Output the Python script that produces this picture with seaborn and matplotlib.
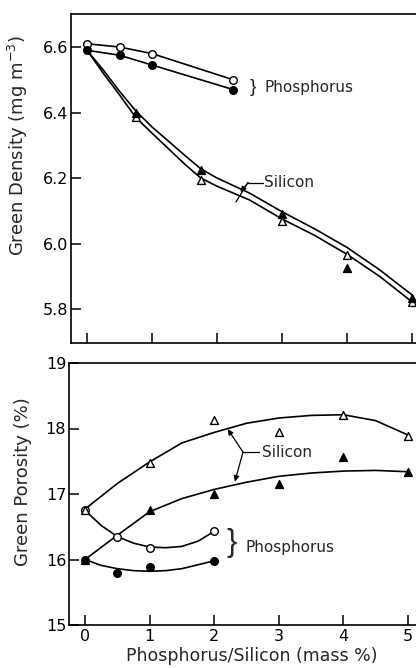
import matplotlib
matplotlib.use("Agg")
import matplotlib.pyplot as plt
import seaborn as sns
import numpy as np

sns.set_theme(style="white")
plt.rcParams['font.family'] = ['DejaVu Sans']

# ---------------- data: top panel (green density) ----------------
p_open_x = [0.0, 0.5, 1.0, 2.25]
p_open_y = [6.61, 6.60, 6.58, 6.50]
p_fill_x = [0.0, 0.5, 1.0, 2.25]
p_fill_y = [6.59, 6.575, 6.545, 6.47]

si_open_x = [0.75, 1.75, 3.0, 4.0, 5.0]
si_open_y = [6.385, 6.195, 6.07, 5.965, 5.82]
si_fill_x = [0.75, 1.75, 3.0, 4.0, 5.0]
si_fill_y = [6.40, 6.225, 6.09, 5.925, 5.835]

# hand-drawn fit curves
si_up_cx = [0.0, 0.25, 0.5, 0.75, 1.0, 1.5, 1.75, 2.0, 2.5, 3.0, 3.5, 4.0, 4.5, 5.0]
si_up_cy = [6.59, 6.53, 6.465, 6.405, 6.356, 6.27, 6.228, 6.20, 6.154, 6.097, 6.045, 5.988, 5.92, 5.843]
si_lo_cx = [0.0, 0.25, 0.5, 0.75, 1.0, 1.5, 1.75, 2.0, 2.5, 3.0, 3.5, 4.0, 4.5, 5.0]
si_lo_cy = [6.59, 6.52, 6.454, 6.385, 6.337, 6.243, 6.20, 6.175, 6.133, 6.075, 6.025, 5.967, 5.90, 5.822]

# ---------------- data: bottom panel (green porosity) ----------------
bp_open_x = [0.0, 0.5, 1.0, 2.0]
bp_open_y = [16.75, 16.35, 16.18, 16.43]
bp_fill_x = [0.0, 0.5, 1.0, 2.0]
bp_fill_y = [16.0, 15.79, 15.89, 15.98]

bs_open_x = [0.0, 1.0, 2.0, 3.0, 4.0, 5.0]
bs_open_y = [16.75, 17.48, 18.13, 17.94, 18.21, 17.89]
bs_fill_x = [0.0, 1.0, 2.0, 3.0, 4.0, 5.0]
bs_fill_y = [16.0, 16.76, 17.0, 17.15, 17.57, 17.33]

bp_open_cx = [0.0, 0.25, 0.5, 0.75, 1.0, 1.25, 1.5, 1.75, 2.0]
bp_open_cy = [16.75, 16.52, 16.35, 16.25, 16.19, 16.18, 16.20, 16.28, 16.43]
bp_fill_cx = [0.0, 0.25, 0.5, 0.75, 1.0, 1.25, 1.5, 1.75, 2.0]
bp_fill_cy = [16.0, 15.91, 15.86, 15.83, 15.82, 15.83, 15.86, 15.92, 15.98]

bs_up_cx = [0.0, 0.5, 1.0, 1.5, 2.0, 2.5, 3.0, 3.5, 4.0, 4.5, 5.0]
bs_up_cy = [16.77, 17.16, 17.49, 17.78, 17.94, 18.08, 18.16, 18.2, 18.21, 18.12, 17.90]
bs_lo_cx = [0.0, 0.5, 1.0, 1.5, 2.0, 2.5, 3.0, 3.5, 4.0, 4.5, 5.0]
bs_lo_cy = [16.0, 16.37, 16.73, 16.93, 17.07, 17.18, 17.27, 17.32, 17.35, 17.36, 17.34]

xticks = [0, 1, 2, 3, 4, 5]
top_yticks = [5.8, 6.0, 6.2, 6.4, 6.6]
bot_yticks = [15, 16, 17, 18, 19]

# ---------------- figure ----------------
W, H = 416, 668
fig = plt.figure(figsize=(W / 100, H / 100), dpi=100)
fig.patch.set_facecolor('white')

def px_axes(left, top, right, bottom):
    return fig.add_axes([left / W, 1 - bottom / H, (right - left) / W, (bottom - top) / H])

ax1 = px_axes(71, 14, 416, 343)
ax2 = px_axes(69, 363, 416, 625)

LW = 1.2
TXT = 11

def curve(ax, x, y):
    sns.lineplot(x=x, y=y, ax=ax, color='black', lw=LW, estimator=None, sort=False, zorder=2)

def pts(ax, x, y, marker, filled, s):
    sns.scatterplot(x=x, y=y, ax=ax, marker=marker, s=s,
                    color='black' if filled else 'white', edgecolor='black',
                    linewidth=1.0, zorder=3, clip_on=False)

# top panel
curve(ax1, p_open_x, p_open_y)
curve(ax1, p_fill_x, p_fill_y)
curve(ax1, si_up_cx, si_up_cy)
curve(ax1, si_lo_cx, si_lo_cy)
pts(ax1, p_open_x, p_open_y, 'o', False, 30)
pts(ax1, p_fill_x, p_fill_y, 'o', True, 30)
pts(ax1, si_open_x, si_open_y, '^', False, 32)
pts(ax1, si_fill_x, si_fill_y, '^', True, 32)

ax1.set_xlim(-16 / 65, -16 / 65 + 345 / 65)
ax1.set_ylim(5.6962, 6.7008)
ax1.set_xticks(xticks)
ax1.set_xticklabels([])
ax1.set_yticks(top_yticks)
ax1.set_yticklabels([f"{v:.1f}" for v in top_yticks])

ax1.text(2.554, 6.475, '}', fontsize=14, ha='center', va='center', family='Liberation Sans')
ax1.text(2.738, 6.475, 'Phosphorus', fontsize=TXT, ha='left', va='center')
ax1.text(2.72, 6.186, 'Silicon', fontsize=TXT, ha='left', va='center')
sns.lineplot(x=[2.70, 2.477], y=[6.186, 6.186], ax=ax1, color='black', lw=0.9,
             estimator=None, sort=False)
sns.lineplot(x=[2.477, 2.292], y=[6.186, 6.127], ax=ax1, color='black', lw=0.9,
             estimator=None, sort=False)
ax1.annotate('', xy=(2.36, 6.157), xytext=(2.477, 6.186),
             arrowprops=dict(arrowstyle='-|>', color='black', lw=0.9,
                             mutation_scale=8, shrinkA=0, shrinkB=0))
ax1.set_ylabel('Green Density (mg m$^{-3}$)', fontsize=13)
ax1.yaxis.set_label_coords(-0.119, 0.60)

# bottom panel
curve(ax2, bp_open_cx, bp_open_cy)
curve(ax2, bp_fill_cx, bp_fill_cy)
curve(ax2, bs_up_cx, bs_up_cy)
curve(ax2, bs_lo_cx, bs_lo_cy)
pts(ax2, bp_open_x, bp_open_y, 'o', False, 30)
pts(ax2, bp_fill_x, bp_fill_y, 'o', True, 30)
pts(ax2, bs_open_x, bs_open_y, '^', False, 32)
pts(ax2, bs_fill_x, bs_fill_y, '^', True, 32)

ax2.set_xlim(-16 / 64.6, -16 / 64.6 + 347 / 64.6)
ax2.set_ylim(15, 19)
ax2.set_xticks(xticks)
ax2.set_xticklabels([str(v) for v in xticks])
ax2.set_yticks(bot_yticks)
ax2.set_yticklabels([str(v) for v in bot_yticks])

ax2.text(2.276, 16.25, '}', fontsize=22, ha='center', va='center', family='Liberation Sans')
ax2.text(2.477, 16.19, 'Phosphorus', fontsize=TXT, ha='left', va='center')
ax2.text(2.74, 17.63, 'Silicon', fontsize=TXT, ha='left', va='center')
sns.lineplot(x=[2.70, 2.446], y=[17.64, 17.64], ax=ax2, color='black', lw=0.9,
             estimator=None, sort=False)
for tip in [(2.21, 17.99), (2.32, 17.19)]:
    ax2.annotate('', xy=tip, xytext=(2.446, 17.64),
                 arrowprops=dict(arrowstyle='-|>', color='black', lw=0.9,
                                 mutation_scale=8, shrinkA=0, shrinkB=0))
ax2.set_ylabel('Green Porosity (%)', fontsize=13)
ax2.yaxis.set_label_coords(-0.107, 0.546)
ax2.set_xlabel('Phosphorus/Silicon (mass %)', fontsize=12.5)
ax2.xaxis.set_label_coords(0.527, -0.084)
ax2.xaxis.label.set_va('top')

for ax in (ax1, ax2):
    ax.set_facecolor('white')
    ax.spines['right'].set_visible(False)
    for s in ('left', 'top', 'bottom'):
        ax.spines[s].set_color('black')
        ax.spines[s].set_linewidth(1.2)
    ax.tick_params(axis='both', direction='in', length=7, width=1.1, color='black',
                   labelsize=11.5, labelcolor='black')
    ax.tick_params(axis='y', pad=2)
    ax.tick_params(axis='x', pad=3)
    ax.tick_params(left=True, bottom=True, top=False, right=False)
    ax.grid(False)
    if ax.get_legend():
        ax.get_legend().remove()

fig.savefig('out.png', dpi=100, facecolor='white')
